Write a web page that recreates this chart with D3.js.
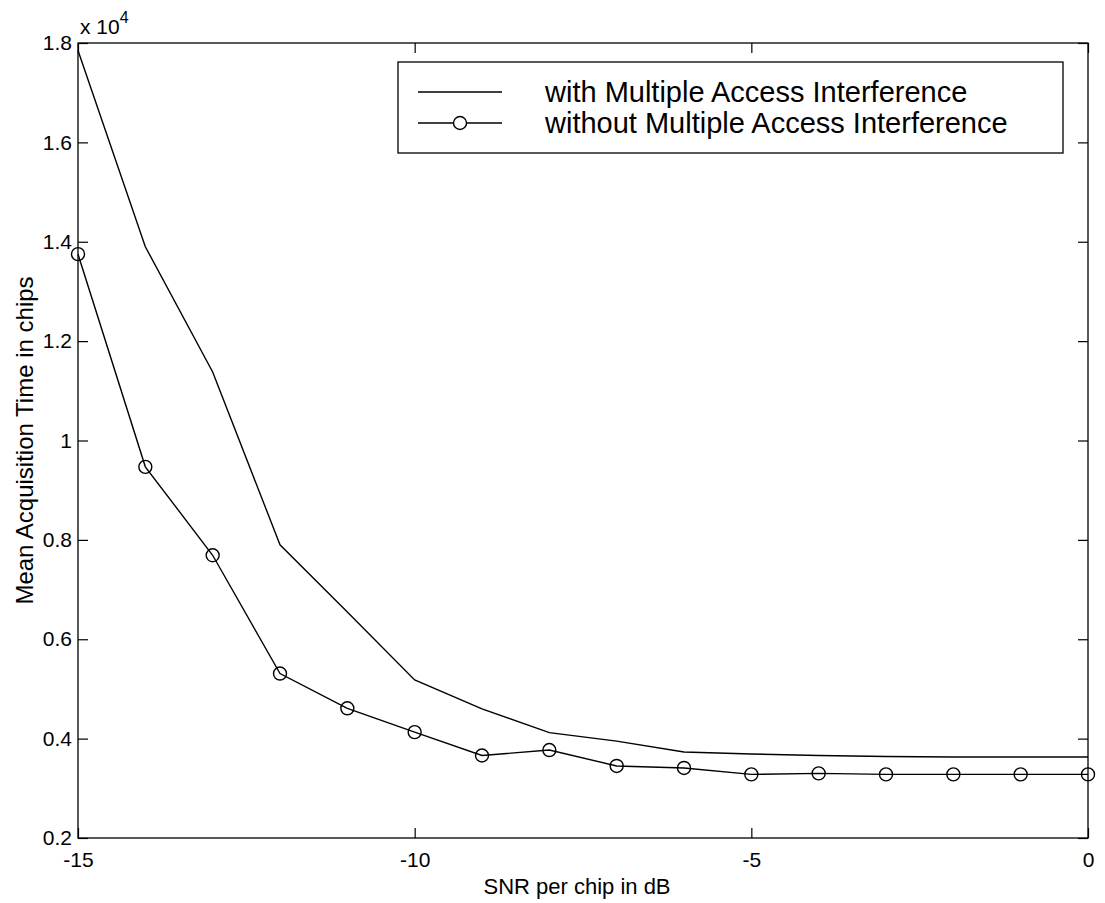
<!DOCTYPE html>
<html><head><meta charset="utf-8">
<script src="https://cdn.jsdelivr.net/npm/d3@7"></script>
<style>
body{margin:0;background:#fff}
text{font-family:"Liberation Sans",Arial,sans-serif;fill:#000}
</style>
</head><body>
<svg id="c" width="1105" height="903"></svg>
<script>
// ---- data (values in units of 10^4 chips) ----
const snr = [-15,-14,-13,-12,-11,-10,-9,-8,-7,-6,-5,-4,-3,-2,-1,0];
const withMAI = [1.785,1.39,1.138,0.79,0.655,0.518,0.46,0.412,0.395,0.373,0.369,0.366,0.364,0.363,0.363,0.363];
const withoutMAI = [1.375,0.947,0.769,0.531,0.461,0.413,0.366,0.377,0.345,0.341,0.328,0.330,0.328,0.328,0.328,0.328];
const xTicks = [-15,-10,-5,0];
const xTickLabels = ["-15","-10","-5","0"];
const yTicks = [0.2,0.4,0.6,0.8,1.0,1.2,1.4,1.6,1.8];
const yTickLabels = ["0.2","0.4","0.6","0.8","1","1.2","1.4","1.6","1.8"];
const seriesNames = ["with Multiple Access Interference","without Multiple Access Interference"];
const xTitle = "SNR per chip in dB";
const yTitle = "Mean Acquisition Time in chips";

const svg = d3.select("#c");
const L=78, R=1088, T=43, B=838;
const x = d3.scaleLinear().domain([-15,0]).range([L,R]);
const y = d3.scaleLinear().domain([0.2,1.8]).range([B,T]);

const tickLen = 10;
function styleAxis(g){
  g.select(".domain").remove();
  g.selectAll(".tick line").attr("stroke","#000").attr("stroke-width",1.2);
  g.selectAll(".tick text").attr("font-size",21).attr("fill","#000")
    .attr("font-family","'Liberation Sans',Arial,sans-serif");
}
// bottom
svg.append("g").attr("transform",`translate(0,${B})`)
  .call(d3.axisBottom(x).tickValues(xTicks).tickSizeInner(-tickLen).tickSizeOuter(0).tickPadding(14)
    .tickFormat((d,i)=>xTickLabels[i]))
  .call(styleAxis);
// top
svg.append("g").attr("transform",`translate(0,${T})`)
  .call(d3.axisTop(x).tickValues(xTicks).tickSizeInner(-tickLen).tickSizeOuter(0).tickFormat(""))
  .call(styleAxis);
// left
svg.append("g").attr("transform",`translate(${L},0)`)
  .call(d3.axisLeft(y).tickValues(yTicks).tickSizeInner(-tickLen).tickSizeOuter(0).tickPadding(6)
    .tickFormat((d,i)=>yTickLabels[i]))
  .call(styleAxis);
// right
svg.append("g").attr("transform",`translate(${R},0)`)
  .call(d3.axisRight(y).tickValues(yTicks).tickSizeInner(-tickLen).tickSizeOuter(0).tickFormat(""))
  .call(styleAxis);

// frame
svg.append("rect").attr("x",L).attr("y",T).attr("width",R-L).attr("height",B-T)
  .attr("fill","none").attr("stroke","#000").attr("stroke-width",1.3);

// exponent label
const ex = svg.append("text").attr("x",L+2).attr("y",T-9).attr("font-size",21);
ex.append("tspan").text("x 10");
ex.append("tspan").attr("dy",-11).attr("font-size",16).text("4");

// lines
const line = d3.line().x(d=>x(d[0])).y(d=>y(d[1]));
const dA = snr.map((s,i)=>[s,withMAI[i]]);
const dB = snr.map((s,i)=>[s,withoutMAI[i]]);
svg.append("path").datum(dA).attr("d",line).attr("fill","none").attr("stroke","#000").attr("stroke-width",1.4);
svg.append("path").datum(dB).attr("d",line).attr("fill","none").attr("stroke","#000").attr("stroke-width",1.4);
svg.append("g").selectAll("circle").data(dB).join("circle")
  .attr("cx",d=>x(d[0])).attr("cy",d=>y(d[1])).attr("r",6.5)
  .attr("fill","none").attr("stroke","#000").attr("stroke-width",1.4);

// axis titles
svg.append("text").attr("x",(L+R)/2 - 6).attr("y",894).attr("text-anchor","middle").attr("font-size",22).text(xTitle);
svg.append("text").attr("transform",`translate(33,${(T+B)/2}) rotate(-90)`).attr("text-anchor","middle").attr("font-size",24).text(yTitle);

// legend
const lg = svg.append("g");
const LX=398, LY=62, LW=665, LH=91;
lg.append("rect").attr("x",LX).attr("y",LY).attr("width",LW).attr("height",LH)
  .attr("fill","#fff").attr("stroke","#000").attr("stroke-width",1.3);
const rows = [LY+30, LY+61];
seriesNames.forEach((name,i)=>{
  const yy = rows[i];
  lg.append("line").attr("x1",LX+20).attr("x2",LX+104).attr("y1",yy).attr("y2",yy)
    .attr("stroke","#000").attr("stroke-width",1.4);
  if(i===1) lg.append("circle").attr("cx",LX+62).attr("cy",yy).attr("r",6.5)
    .attr("fill","#fff").attr("stroke","#000").attr("stroke-width",1.4);
  lg.append("text").attr("x",LX+147).attr("y",yy+10).attr("font-size",29).text(name);
});
</script>
</body></html>
